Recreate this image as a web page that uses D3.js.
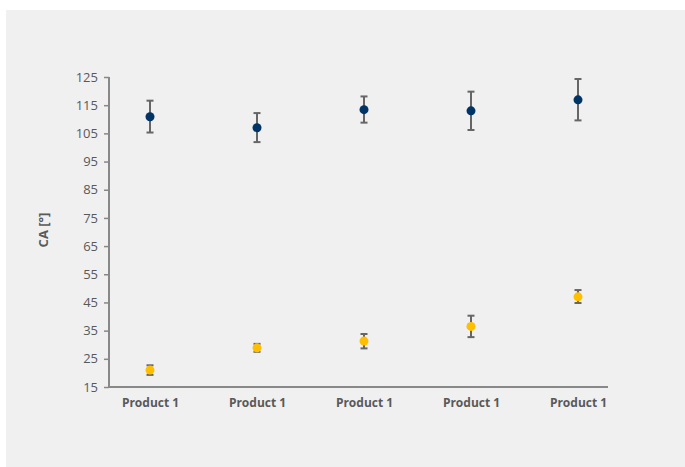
<!DOCTYPE html>
<html><head><meta charset="utf-8">
<script src="https://cdn.jsdelivr.net/npm/d3@7"></script>
<style>html,body{margin:0;padding:0;background:#fff;}svg{display:block;}</style>
</head><body>
<script>
const categories = ["Product 1","Product 1","Product 1","Product 1","Product 1"];
const seriesA = [110.9, 107, 113.4, 113, 116.9];
const seriesAHigh = [116.6, 112.2, 118.1, 119.8, 124.3];
const seriesALow = [105.3, 101.9, 108.8, 106.2, 109.6];
const seriesB = [21, 28.9, 31.3, 36.5, 47];
const seriesBHigh = [22.7, 30.3, 33.8, 40.3, 49.4];
const seriesBLow = [19.3, 27.5, 28.7, 32.7, 44.8];
const yTicks = [15,25,35,45,55,65,75,85,95,105,115,125];

const W=685,H=467;
const svg=d3.select("body").append("svg").attr("width",W).attr("height",H);
svg.append("rect").attr("x",6).attr("y",10).attr("width",W-6).attr("height",H-10).attr("fill","#f0f0f0");

const y=d3.scaleLinear().domain([15,125]).range([387,77]);
const idx=categories.map((d,i)=>i);
const x=d3.scalePoint().domain(idx).range([150,578]);
const axisColor="#888888", textColor="#595959";
const font="'Open Sans', sans-serif";

// y axis
const ya=svg.append("g").attr("transform","translate(109,0)")
  .call(d3.axisLeft(y).tickValues(yTicks).tickSize(5).tickPadding(6));
ya.select(".domain").attr("stroke",axisColor).attr("stroke-width",2).attr("d","M0,"+(y(15)+1)+"V"+y(125));
ya.selectAll(".tick line").attr("stroke",axisColor).attr("stroke-width",1.5);
ya.selectAll(".tick text").attr("fill",textColor).style("font-family",font).style("font-size","13px");

// x axis
const xa=svg.append("g").attr("transform","translate(0,"+y(15)+")")
  .call(d3.axisBottom(x).tickSize(0).tickPadding(11).tickFormat(i=>categories[i]));
xa.select(".domain").attr("stroke",axisColor).attr("stroke-width",2).attr("d","M108,0H608");
xa.selectAll(".tick text").attr("fill",textColor).style("font-family",font).style("font-size","12px").style("font-weight","bold");

svg.append("text").attr("transform","translate(48,230) rotate(-90)").attr("text-anchor","middle")
  .attr("fill",textColor).style("font-family",font).style("font-size","13px").style("font-weight","bold").text("CA [°]");

function drawSeries(vals,hi,lo,color){
  const g=svg.append("g");
  idx.forEach(i=>{
    const cx=x(i);
    g.append("line").attr("x1",cx).attr("x2",cx).attr("y1",y(hi[i])).attr("y2",y(lo[i])).attr("stroke","#666").attr("stroke-width",2);
    [hi[i],lo[i]].forEach(v=>g.append("line").attr("x1",cx-3.5).attr("x2",cx+3.5).attr("y1",y(v)).attr("y2",y(v)).attr("stroke","#666").attr("stroke-width",2));
    g.append("circle").attr("cx",cx).attr("cy",y(vals[i])).attr("r",4.5).attr("fill",color);
  });
}
drawSeries(seriesA,seriesAHigh,seriesALow,"#003366");
drawSeries(seriesB,seriesBHigh,seriesBLow,"#ffbf00");
</script>
</body></html>
